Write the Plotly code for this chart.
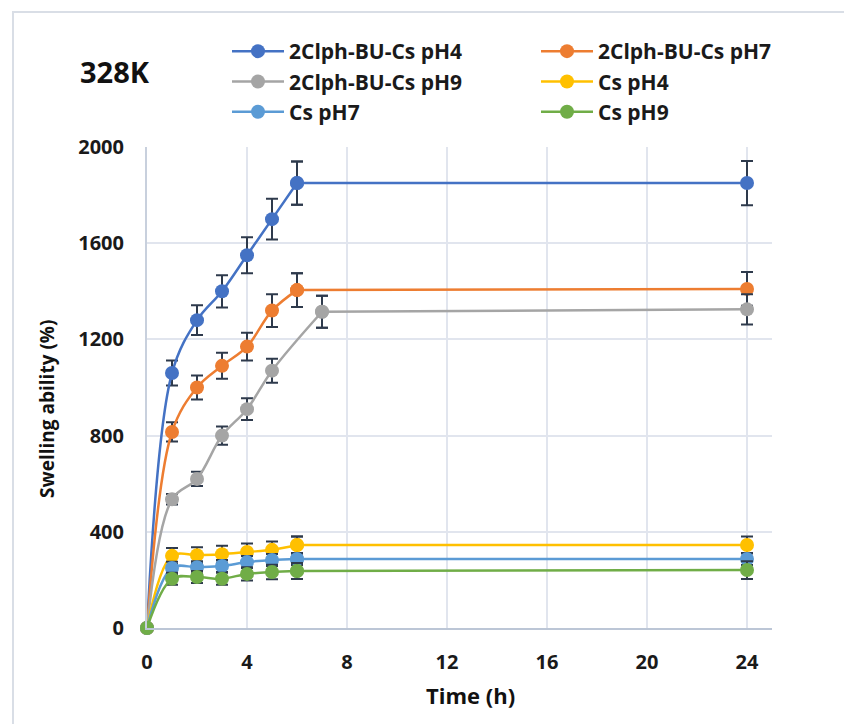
import plotly.graph_objects as go

# ---------------- data ----------------
hours = [0, 1, 2, 3, 4, 5, 6, 24]
hours_ph9 = [0, 1, 2, 3, 4, 5, 7, 24]

comp_ph4 = [0, 1060, 1280, 1400, 1550, 1700, 1850, 1850]
comp_ph4_err = [0, 52, 62, 67, 75, 85, 90, 92]
comp_ph7 = [0, 815, 1000, 1090, 1170, 1320, 1405, 1410]
comp_ph7_err = [0, 40, 50, 54, 58, 68, 70, 70]
comp_ph9 = [0, 535, 620, 800, 910, 1070, 1315, 1325]
comp_ph9_err = [0, 22, 30, 38, 45, 50, 67, 63]
cs_ph4 = [0, 300, 303, 307, 316, 325, 345, 345]
cs_ph4_err = [0, 33, 33, 35, 35, 35, 35, 35]
cs_ph7 = [0, 250, 253, 258, 274, 283, 287, 287]
cs_ph7_err = [0, 25, 25, 25, 25, 25, 25, 25]
cs_ph9 = [0, 205, 212, 205, 225, 233, 237, 241]
cs_ph9_err = [0, 25, 25, 25, 28, 30, 33, 37]

names = ["2Clph-BU-Cs pH4", "2Clph-BU-Cs pH7", "2Clph-BU-Cs pH9",
         "Cs pH4", "Cs pH7", "Cs pH9"]
colors = ["#4472C4", "#ED7D31", "#A5A5A5", "#FFC000", "#5B9BD5", "#70AD47"]
legend_ids = ["legend", "legend2", "legend", "legend2", "legend", "legend2"]
x_sets = [hours, hours, hours_ph9, hours, hours, hours]
y_sets = [comp_ph4, comp_ph7, comp_ph9, cs_ph4, cs_ph7, cs_ph9]
e_sets = [comp_ph4_err, comp_ph7_err, comp_ph9_err, cs_ph4_err, cs_ph7_err, cs_ph9_err]

x_ticks = [0, 4, 8, 12, 16, 20, 24]
y_ticks = [0, 400, 800, 1200, 1600, 2000]

FONT = "Open Sans"
ERR = "#2E3A4C"
TXT = "#1a1a1a"

fig = go.Figure()
for name, col, lg, xs, ys, es in zip(names, colors, legend_ids, x_sets, y_sets, e_sets):
    # smoothed part of the curve (all points but the 24 h one)
    fig.add_trace(go.Scatter(
        x=xs[:-1], y=ys[:-1], name=name, legend=lg, legendgroup=name,
        mode="lines+markers",
        line=dict(color=col, width=2.5, shape="spline", smoothing=1.0),
        marker=dict(color=col, size=14),
        error_y=dict(type="data", array=es[:-1], visible=True, color=ERR,
                     thickness=2, width=6),
        cliponaxis=False,
    ))
    # long plateau segment up to 24 h
    fig.add_trace(go.Scatter(
        x=xs[-2:], y=ys[-2:], name=name, legend=lg, legendgroup=name,
        showlegend=False, mode="lines+markers",
        line=dict(color=col, width=2.5),
        marker=dict(color=col, size=14),
        error_y=dict(type="data", array=es[-2:], visible=True, color=ERR,
                     thickness=2, width=6),
        cliponaxis=False,
    ))

W, H = 844, 724
ml, mr, mt, mb = 147, 72, 147, 96
pw, ph = W - ml - mr, H - mt - mb


def px(xp):
    return (xp - ml) / pw


def py(yp):
    return (H - mb - yp) / ph


leg_font = dict(family=FONT, size=21, weight="bold", color=TXT)
fig.update_layout(
    width=W, height=H,
    margin=dict(l=ml, r=mr, t=mt, b=mb, pad=0),
    paper_bgcolor="white", plot_bgcolor="white",
    font=dict(family=FONT, color=TXT),
    showlegend=True,
    legend=dict(
        orientation="v", x=px(227), xanchor="left", y=py(31), yanchor="top",
        font=leg_font, bgcolor="rgba(0,0,0,0)", itemclick=False,
        tracegroupgap=0, itemwidth=52,
    ),
    legend2=dict(
        orientation="v", x=px(536), xanchor="left", y=py(31), yanchor="top",
        font=leg_font, bgcolor="rgba(0,0,0,0)", itemclick=False,
        tracegroupgap=0, itemwidth=52,
    ),
    xaxis=dict(
        range=[0, 25], tickvals=x_ticks, showgrid=True, gridcolor="#E1E5EE",
        gridwidth=2, zeroline=False, showline=True, linecolor="#BCC6D6",
        linewidth=2, ticks="", ticklabelstandoff=15,
        tickfont=dict(family=FONT, size=20, weight="bold", color=TXT),
    ),
    yaxis=dict(
        range=[0, 2000], tickvals=y_ticks, showgrid=True, gridcolor="#E1E5EE",
        gridwidth=2, zeroline=False, showline=True, linecolor="#C8D0DD",
        linewidth=2, ticks="", ticklabelstandoff=17,
        tickfont=dict(family=FONT, size=20, weight="bold", color=TXT),
    ),
    shapes=[dict(type="rect", xref="paper", yref="paper",
                 x0=px(13), x1=px(900), y0=py(12), y1=py(800),
                 line=dict(color="#D9DEE6", width=2), fillcolor="rgba(0,0,0,0)",
                 layer="below")],
    annotations=[
        dict(text="328K", xref="paper", yref="paper", x=px(115), y=py(72),
             xanchor="center", yanchor="middle", showarrow=False,
             font=dict(family=FONT, size=29, weight="bold", color="#111")),
        dict(text="Time (h)", xref="paper", yref="paper", x=px(470), y=py(695),
             xanchor="center", yanchor="middle", showarrow=False,
             font=dict(family=FONT, size=22, weight="bold", color="#111")),
        dict(text="Swelling ability (%)", xref="paper", yref="paper",
             x=px(47), y=py(409), textangle=-90,
             xanchor="center", yanchor="middle", showarrow=False,
             font=dict(family=FONT, size=19, weight="bold", color="#111")),
    ],
)

fig.write_html("out.html")
